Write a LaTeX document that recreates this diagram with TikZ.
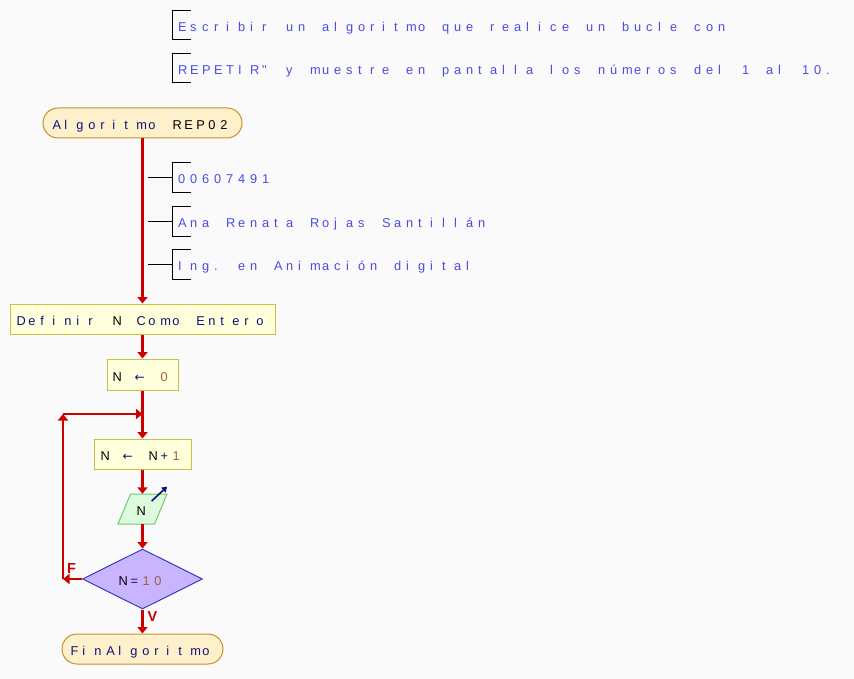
\documentclass[tikz,border=0pt]{standalone}
\usepackage{fontspec}
\setmainfont{Liberation Sans}[Ligatures=TeXOff]
\newfontfamily\arrowfont{DejaVu Sans}
\usetikzlibrary{arrows.meta,shapes.geometric,calc}

\definecolor{bg}{HTML}{FAFAFA}
\definecolor{flow}{HTML}{CC0000}
\definecolor{kw}{HTML}{10107A}
\definecolor{cm}{HTML}{4B4BE3}
\definecolor{num}{HTML}{A0603A}
\definecolor{termfill}{HTML}{FFF0CC}
\definecolor{termdraw}{HTML}{C89030}
\definecolor{procfill}{HTML}{FFFFDC}
\definecolor{procdraw}{HTML}{C8C040}
\definecolor{iofill}{HTML}{DCFADC}
\definecolor{iodraw}{HTML}{70C870}
\definecolor{decfill}{HTML}{C8B4FF}
\definecolor{decdraw}{HTML}{3C3CC8}

% every character sits in a fixed 12pt cell, left aligned
\ExplSyntaxOn
\NewDocumentCommand\cells{m}{\str_map_inline:nn{#1}{\makebox[12pt][l]{##1}}}
\ExplSyntaxOff
% assignment arrow, one cell wide
\newcommand\asgn{\makebox[12pt][l]{\hspace{-2pt}{\arrowfont\fontsize{12}{14}\selectfont ←}}}

\tikzset{
  txt/.style={font=\fontsize{12.8}{15}\selectfont, inner sep=0pt,
    text height=13pt, text depth=0pt},
  term/.style={txt, rectangle, rounded corners=15pt, draw=termdraw,
    fill=termfill, line width=1pt, minimum height=30pt},
  proc/.style={txt, rectangle, draw=procdraw, fill=procfill,
    line width=1pt},
  decision/.style={txt, diamond, aspect=2, draw=decdraw, fill=decfill,
    line width=1pt, minimum width=120pt, minimum height=60pt},
  flowline/.style={draw=flow, line width=2.2pt},
  flowarrow/.style={flowline, -{Triangle[length=6.5pt,width=10pt]}},
  note/.style={txt, text=cm, anchor=base west},
  bracket/.style={draw=black, line width=1pt},
  branch/.style={text=flow, font=\bfseries\fontsize{14.5}{16}\selectfont,
    inner sep=0pt},
}

\begin{document}
\begin{tikzpicture}[x=1pt,y=-1pt]
\path[fill=bg, use as bounding box] (0,0) rectangle (854,679);

% header comments
\node[note] (h1) at (178,31.7) {\cells{Escribir un algoritmo que realice un bucle con}};
\node[note] (h2) at (178,74.7) {\cells{REPETIR" y muestre en pantalla los números del 1 al 10.}};
\foreach \c in {h1,h2}
  \draw[bracket] ($(\c.base west)+(13,-21)$) -- ++(-18.5,0) -- ++(0,29.3) -- ++(18.5,0);

% flow nodes
\node[term] (start) at (142.5,123) [minimum width=199pt]
  {{\color{kw}\cells{Algoritmo }}\cells{REP02}};
\node[proc] (def) at (142.5,319) [minimum width=265pt, minimum height=30pt]
  {{\color{kw}\cells{Definir }}\cells{N }{\color{kw}\cells{Como Entero}}};
\node[proc] (n0) at (142.5,374.5) [minimum width=71pt, minimum height=31pt]
  {\cells{N }{\color{kw}\asgn\cells{ }}{\color{num}\cells{0}}};
\node[proc] (inc) at (142.5,454) [minimum width=97pt, minimum height=30pt]
  {\cells{N }{\color{kw}\asgn\cells{ }}\cells{N}{\color{kw}\cells{+}}{\color{num}\cells{1}}};

% output block (parallelogram) with its output mark
\filldraw[fill=iofill, draw=iodraw, line width=1pt]
  (130.5,494) -- (167,494) -- (154.5,524) -- (118,524) -- cycle;
\node[txt, minimum width=36pt, minimum height=30pt] (out) at (142.5,509) {\cells{N}};
\draw[kw, line width=1.6pt, -{Triangle[length=5pt,width=6.5pt]}]
  ($(out.center)+(9.2,-8)$) -- ($(out.center)+(24.5,-22.3)$);

\node[decision] (dec) at (142.5,579)
  {\cells{N}{\color{kw}\cells{=}}{\color{num}\cells{10}}};
\node[term] (fin) at (142.5,649) [minimum width=161pt]
  {{\color{kw}\cells{FinAlgoritmo}}};

% author comments hanging from the main line
\node[note] (c1) at (178,184) {\cells{00607491}};
\node[note] (c2) at (178,227.5) {\cells{Ana Renata Rojas Santillán}};
\node[note] (c3) at (178,270.5) {\cells{Ing. en Animación digital}};
\foreach \c in {c1,c2,c3}{
  \draw[bracket] ($(\c.base west)+(13,-21)$) -- ++(-18.5,0) -- ++(0,30) -- ++(18.5,0);
  \draw[bracket] ($(\c.base west)+(-30,-6)$) -- ++(24.5,0);
}

% connectors
\coordinate (lc) at (63,579);
\coordinate (tc) at (63,414);
\coordinate (j) at (142.5,414);

\draw[flowarrow] (start) -- (def);
\draw[flowarrow] (def) -- (n0);
\draw[flowline] (n0.south) -- (j);
\draw[flowarrow] (j) -- (inc.north);
\draw[flowarrow] (inc) -- (out);
\draw[flowarrow] (out.south) -- (dec.north);
\draw[flowarrow] (dec) -- (fin);
\draw[flowarrow] (dec.west) -- (lc);
\draw[flowarrow] (lc) -- (tc);
\draw[flowarrow] (tc) -- (j);

\node[branch] (lf) at (71.5,568.5) {F};
\node[branch] (lv) at (152.5,617) {V};
\end{tikzpicture}
\end{document}
